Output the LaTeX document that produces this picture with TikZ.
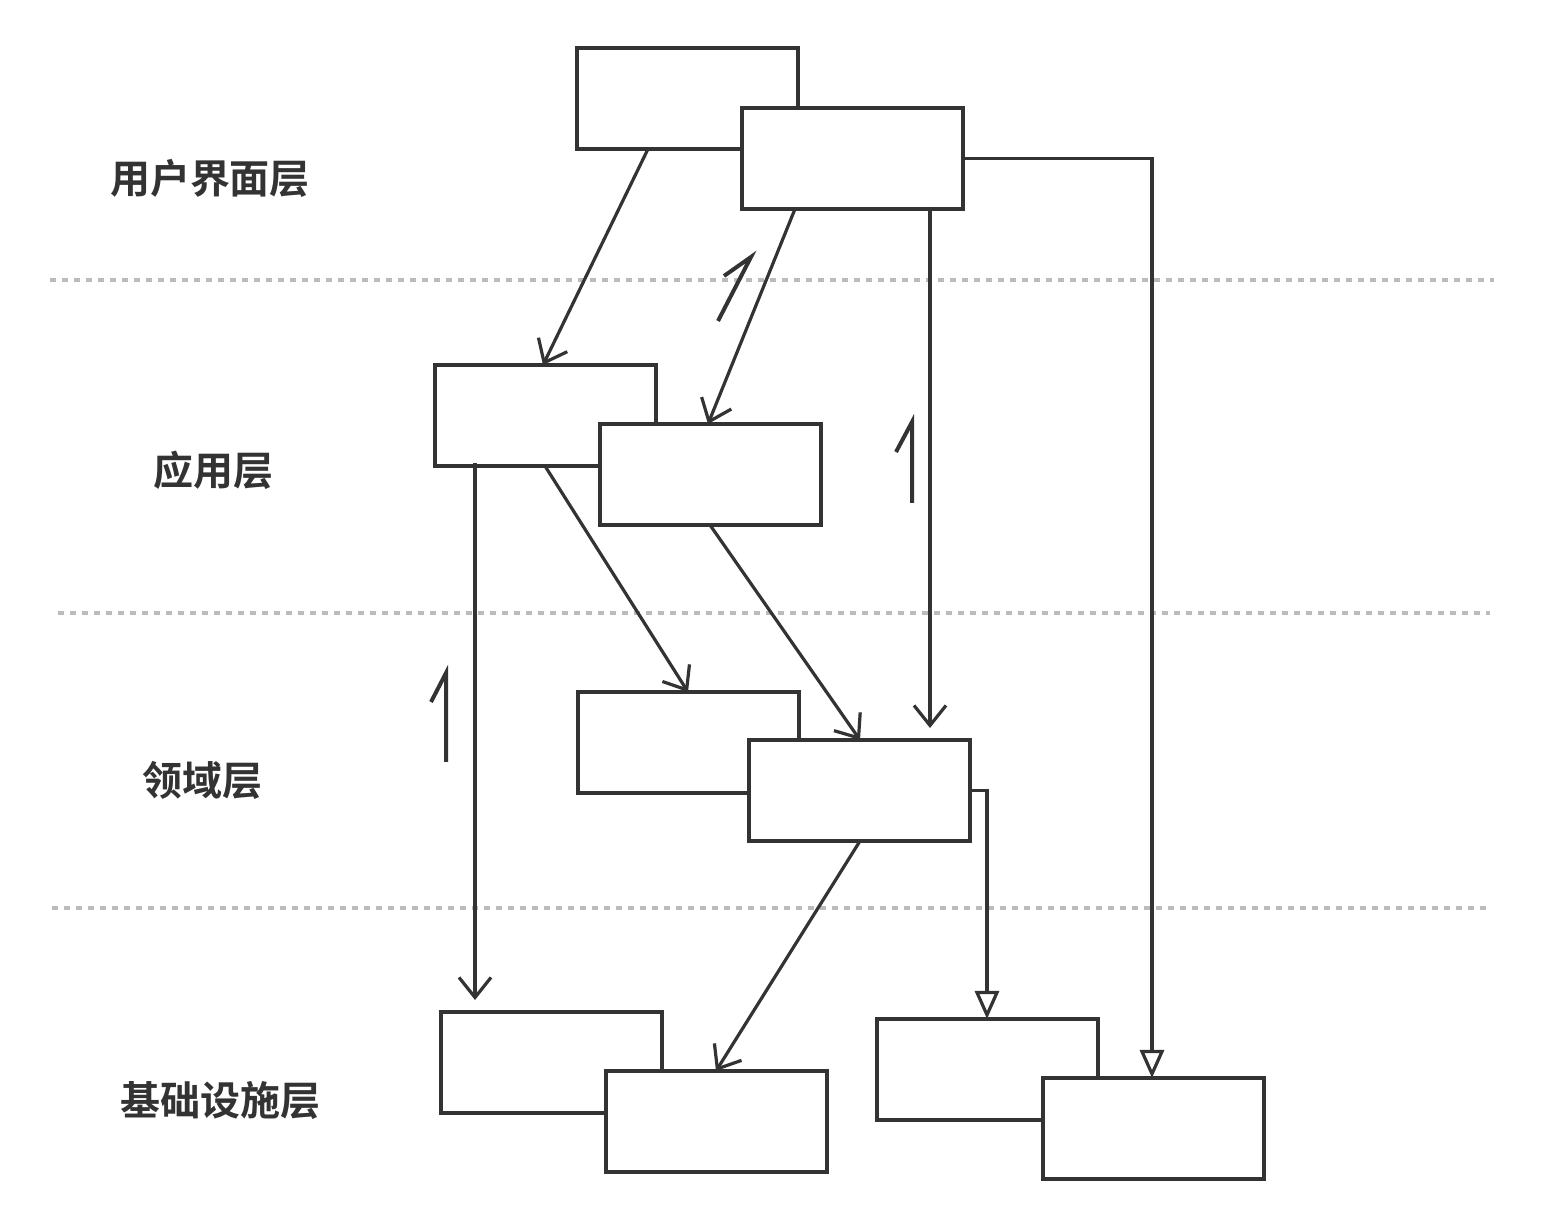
\documentclass[tikz,border=0pt]{standalone}
\usepackage{fontspec}
\newfontfamily\cjkb{Noto Sans CJK SC Bold}
\usetikzlibrary{arrows.meta,calc}
\definecolor{ink}{HTML}{333333}
\definecolor{sep}{HTML}{BBBBBB}
\tikzset{
  box/.style={draw=ink, fill=white, line width=1.75pt, rectangle, anchor=north west,
    minimum width=110.5pt, minimum height=50.5pt, inner sep=0pt, outer sep=0pt},
  dep/.style={draw=ink, line width=1.6pt, -{Straight Barb[length=10pt,width=16pt,line width=1.6pt]}},
  inh/.style={draw=ink, line width=1.6pt, -{Triangle[open,length=14pt,width=12pt,line width=1.6pt,fill=white]}},
  sepline/.style={draw=sep, line width=2pt, dash pattern=on 3pt off 3pt},
  layer/.style={text=ink, font=\cjkb\fontsize{20pt}{24pt}\selectfont, inner sep=0pt},
  onemark/.style={draw=ink, line width=2pt, line cap=butt}
}
\begin{document}
\begin{tikzpicture}[x=0.5pt,y=-0.5pt]
\useasboundingbox (0,0) rectangle (1544,1229);
% separators
\draw[sepline] (50,280) -- (1494,280);
\draw[sepline] (58,613) -- (1490,613);
\draw[sepline] (52,908) -- (1487,908);
% layer labels
\node[layer] (l1) at (210,178) {用户界面层};
\node[layer] (l2) at (213,470) {应用层};
\node[layer] (l3) at (202,780) {领域层};
\node[layer] (l4) at (220,1100) {基础设施层};
% boxes
\node[box] (A) at (577,48) {};
\node[box] (B) at (742,108) {};
\node[box] (C) at (435,365) {};
\node[box] (D) at (600,424) {};
\node[box] (E) at (578,692) {};
\node[box] (F) at (749,740) {};
\node[box] (G) at (441,1012) {};
\node[box] (H) at (606,1071) {};
\node[box] (I) at (877,1019) {};
\node[box] (J) at (1043,1078) {};
% dependency arrows
\draw[dep] ($(A.south west)+(71,0)$) -- ($(C.north west)+(108,0)$);
\draw[dep] ($(B.south west)+(53,0)$) -- ($(D.north west)+(108,0)$);
\draw[dep] ($(B.south west)+(188,-2)$) -- ($(F.north west)+(181,-12)$);
\draw[dep] ($(C.south west)+(40,-3)$) -- ($(G.north west)+(34,-12)$);
\draw[dep] ($(C.south west)+(110,0)$) -- ($(E.north west)+(110,0)$);
\draw[dep] ($(D.south west)+(110,0)$) -- ($(F.north west)+(111,0)$);
\draw[dep] ($(F.south west)+(111,0)$) -- ($(H.north west)+(110,0)$);
% realization arrows
\draw[inh] (B.east) -| ($(J.north west)+(109,0)$);
\draw[inh] (F.east) -| ($(I.north west)+(110,0)$);
% multiplicity marks
\draw[onemark] (718,321) -- (751,257) -- (724,276);
\draw[onemark] (912,503) -- (912,422) -- (896,452);
\draw[onemark] (446,762) -- (446,673) -- (431,702);
\end{tikzpicture}
\end{document}
